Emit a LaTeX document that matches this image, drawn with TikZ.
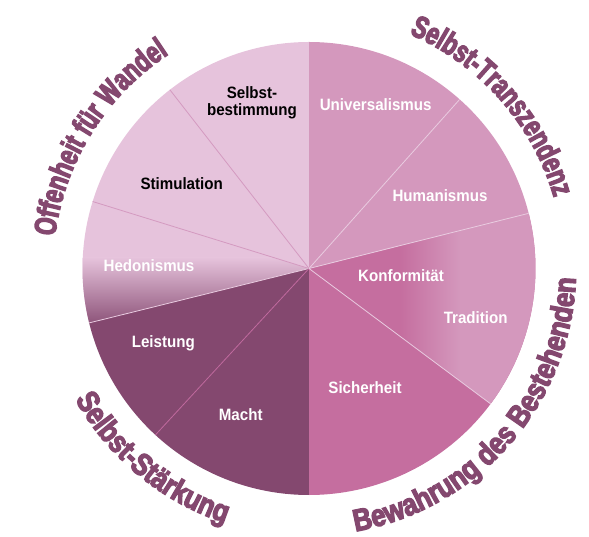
\documentclass[tikz,border=0pt]{standalone}
\usepackage{fontspec}
\setmainfont{Liberation Sans}
\newfontfamily\lblfont[FakeStretch=0.92]{Liberation Sans}
\newfontfamily\arcfont[FakeStretch=0.73,FakeBold=4]{Liberation Sans Bold}
\newfontfamily\arcfontwide[FakeStretch=0.84,FakeBold=4]{Liberation Sans Bold}
\newcommand\arcfmt{\arcfont\fontsize{31}{31}\selectfont}
\newcommand\arcfmtwide{\arcfontwide\fontsize{31}{31}\selectfont}
\usetikzlibrary{decorations.text}
\definecolor{wandel}{HTML}{E6C3DC}
\definecolor{transz}{HTML}{D498BD}
\definecolor{bewahr}{HTML}{C56E9F}
\definecolor{staerk}{HTML}{84486F}
\definecolor{arccol}{HTML}{84486F}
\definecolor{linelight}{HTML}{D49AC0}
\definecolor{linepale}{HTML}{E9CBE0}
\definecolor{linedark}{HTML}{C06A9E}

\begin{document}
\begin{tikzpicture}[x=1bp,y=1bp,
	lbl/.style={font=\lblfont\bfseries\fontsize{16.5}{16.5}\selectfont,text=white,align=center,inner sep=0pt},
	lbldark/.style={lbl,text=black},
	divline/.style={line width=0.8bp},
	arctext/.style={decorate,decoration={text along path,text align=center,text color=arccol,text={#1}}}]
\useasboundingbox (-309,-268.5) rectangle (280,268.5);

\fill[wandel] (0,0) -- (90:226.5) arc[start angle=90,end angle=193.9,radius=226.5] -- cycle;
\begin{scope}
	\clip (0,0) -- (162.8:226.5) arc[start angle=162.8,end angle=193.9,radius=226.5] -- cycle;
	\shade[top color=wandel,bottom color=staerk] (-230,11) rectangle (0,-62);
\end{scope}
\fill[staerk] (0,0) -- (193.9:226.5) arc[start angle=193.9,end angle=270,radius=226.5] -- cycle;
\fill[bewahr] (0,0) -- (270:226.5) arc[start angle=270,end angle=374.1,radius=226.5] -- cycle;
\begin{scope}
	\clip (0,0) -- (323.3:226.5) arc[start angle=323.3,end angle=374.1,radius=226.5] -- cycle;
	\shade[left color=bewahr,right color=transz] (91,-140) rectangle (151,60);
	\fill[transz] (151,-140) rectangle (230,60);
\end{scope}
\fill[transz] (0,0) -- (14.1:226.5) arc[start angle=14.1,end angle=90,radius=226.5] -- cycle;

\draw[divline,linelight] (0,0) -- (127.9:226.5);
\draw[divline,linelight] (0,0) -- (162.8:226.5);
\draw[divline,linepale] (0,0) -- (193.9:226.5);
\draw[divline,linedark] (0,0) -- (227.3:226.5);
\draw[divline,linepale] (0,0) -- (323.3:226.5);
\draw[divline,linepale] (0,0) -- (14.1:226.5);
\draw[divline,linepale] (0,0) -- (48.3:226.5);

\node[lbldark]	(selbstbest)	at (-57,165.5)		{Selbst-\\bestimmung};
\node[lbl]		(univ)		at (66.7,163.5)		{Universalismus};
\node[lbl]		(human)		at (131,72.5)		{Humanismus};
\node[lbldark]	(stim)		at (-127.3,85.2)		{Stimulation};
\node[lbl]		(hedon)		at (-160,2.8)		{Hedonismus};
\node[lbl]		(konf)		at (92,-7.5)		{Konformität};
\node[lbl]		(trad)		at (166.7,-48.8)		{Tradition};
\node[lbl]		(leist)		at (-145.7,-74.8)		{Leistung};
\node[lbl]		(sicher)		at (56,-118.8)		{Sicherheit};
\node[lbl]		(macht)		at (-68.3,-146.5)		{Macht};

\path[arctext={|\arcfmt|Offenheit für Wandel}] (185:256) arc[start angle=185,end angle=111,radius=256];
\path[arctext={|\arcfmt|Selbst-Transzendenz}] (80:255) arc[start angle=80,end angle=3,radius=255];
\path[arctext={|\arcfmtwide|Bewahrung des Bestehenden}] (-97:267) arc[start angle=-97,end angle=15,radius=267];
\path[arctext={|\arcfmtwide|Selbst-Stärkung}] (-175:268) arc[start angle=-175,end angle=-84,radius=268];
\end{tikzpicture}
\end{document}
